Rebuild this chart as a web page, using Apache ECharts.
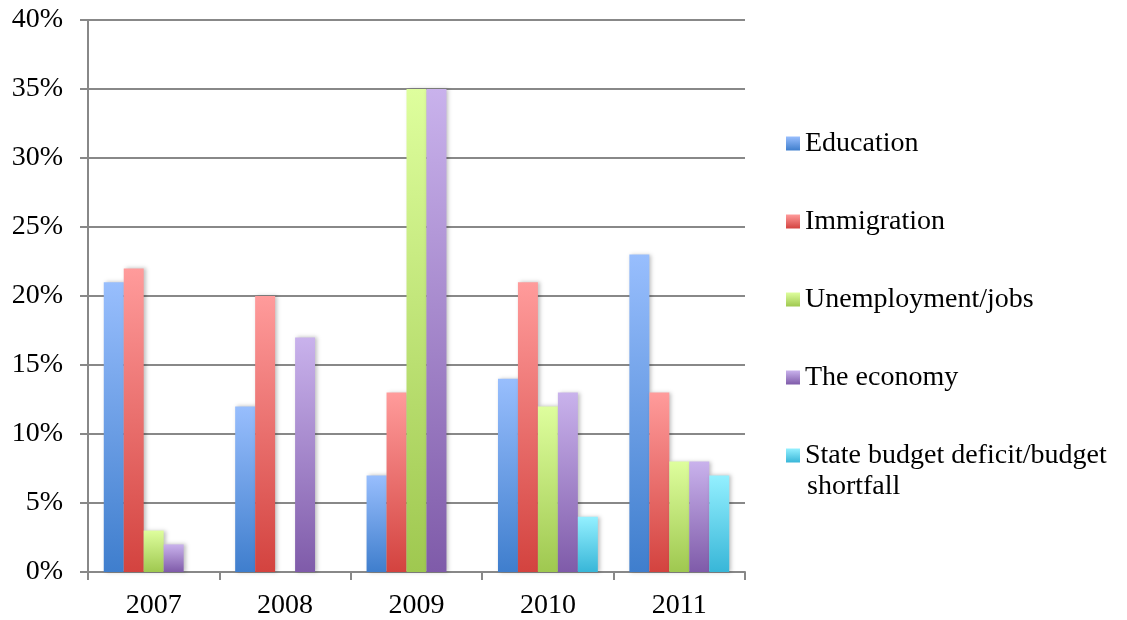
<!DOCTYPE html>
<html><head><meta charset="utf-8">
<script src="https://cdn.jsdelivr.net/npm/echarts@6/dist/echarts.min.js"></script>
<style>html,body{margin:0;padding:0;background:#fff}#c{width:1127px;height:620px}</style>
</head><body><div id="c"></div>
<script>
const years = ['2007','2008','2009','2010','2011'];
const education = [21, 12, 7, 14, 23];
const immigration = [22, 20, 13, 21, 13];
const unemployment = [3, null, 35, 12, 8];
const economy = [2, 17, 35, 13, 8];
const stateBudget = [null, null, null, 4, 7];
const yTicks = [0, 5, 10, 15, 20, 25, 30, 35, 40];

const FONT = 'Liberation Serif';
const LAST = 'State budget deficit/budget shortfall';
function grad(top, bottom) {
  return new echarts.graphic.LinearGradient(0, 0, 0, 1, [
    {offset: 0, color: top}, {offset: 1, color: bottom}
  ]);
}
const seriesDefs = [
  {name: 'Education', data: education, top: '#98befd', bottom: '#3f7ecd'},
  {name: 'Immigration', data: immigration, top: '#ff9b9b', bottom: '#d3433f'},
  {name: 'Unemployment/jobs', data: unemployment, top: '#defe9d', bottom: '#9fc850'},
  {name: 'The economy', data: economy, top: '#c9b2ec', bottom: '#7f5ba9'},
  {name: LAST, data: stateBudget, top: '#94f0ff', bottom: '#38b6d8'}
];
const chart = echarts.init(document.getElementById('c'));
chart.setOption({
  animation: false,
  backgroundColor: '#fff',
  grid: {left: 88, right: 382, top: 20, bottom: 48, containLabel: false},
  legend: {
    orient: 'vertical', left: 781, top: 122, itemWidth: 14, itemHeight: 14,
    itemGap: 45, icon: 'rect', itemStyle: {borderWidth: 0},
    formatter: n => n === LAST ? 'State budget deficit/budget' : n,
    textStyle: {fontFamily: FONT, fontSize: 28, color: '#000', lineHeight: 33},
    data: seriesDefs.map(s => s.name)
  },
  graphic: [{
    type: 'text', left: 807, top: 473,
    style: {text: 'shortfall', font: '28px "Liberation Serif"', fill: '#000'}
  }],
  xAxis: {
    type: 'category', data: years,
    axisLine: {lineStyle: {color: '#888', width: 2}},
    axisTick: {show: true, length: 8, lineStyle: {color: '#888', width: 2}},
    axisLabel: {fontFamily: FONT, fontSize: 28, color: '#000', margin: 20}
  },
  yAxis: {
    type: 'value', min: 0, max: 40, interval: 5,
    axisLine: {show: true, lineStyle: {color: '#888', width: 2}},
    axisTick: {show: true, length: 8, lineStyle: {color: '#888', width: 2}},
    splitLine: {lineStyle: {color: '#888', width: 2}},
    axisLabel: {fontFamily: FONT, fontSize: 28, color: '#000', margin: 25,
      formatter: v => yTicks.includes(v) ? v + '%' : ''}
  },
  series: seriesDefs.map(s => ({
    name: s.name, type: 'bar', data: s.data,
    barGap: '0%', barCategoryGap: '24%',
    itemStyle: {color: grad(s.top, s.bottom), shadowColor: 'rgba(0,0,0,0.25)', shadowBlur: 4, shadowOffsetX: 2, shadowOffsetY: 0}
  }))
});
</script></body></html>
